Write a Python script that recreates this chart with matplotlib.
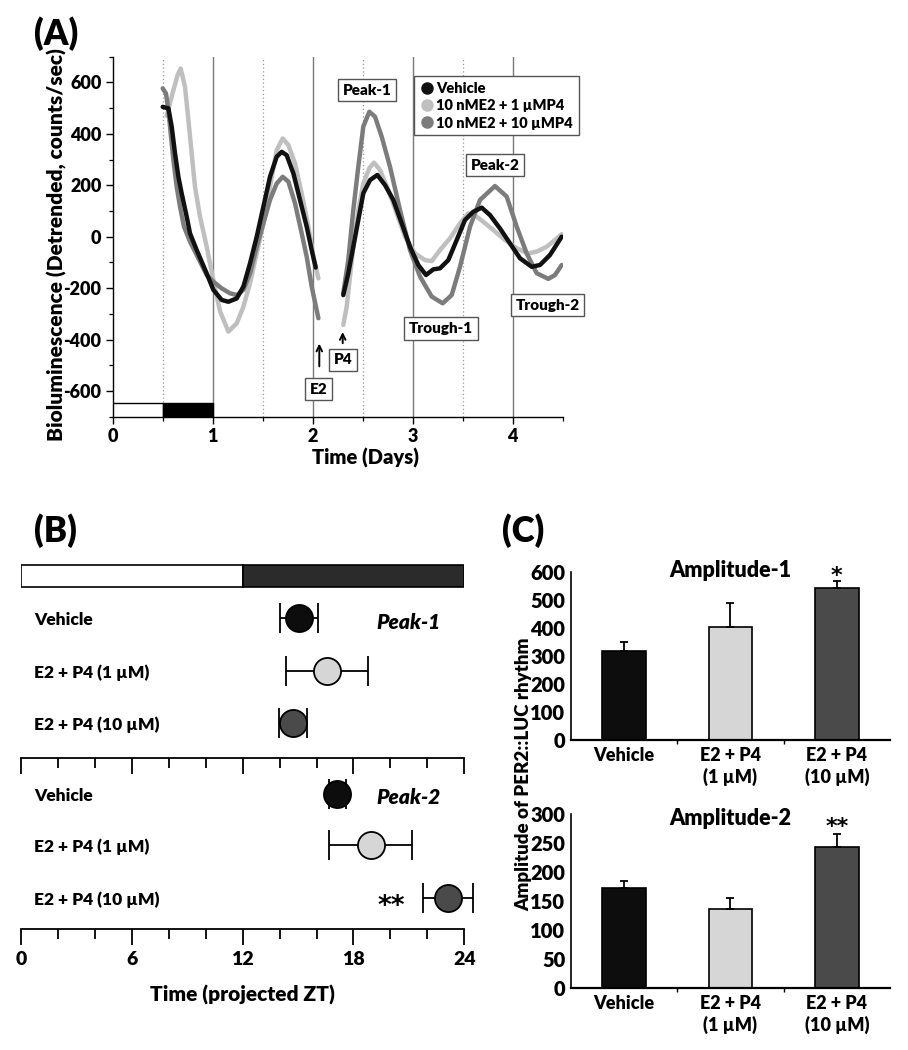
import numpy as np
import matplotlib
matplotlib.use("Agg")
import matplotlib.pyplot as plt
from matplotlib.lines import Line2D
from matplotlib.ticker import MultipleLocator, FixedLocator

plt.rcParams["font.family"] = ["Lato", "DejaVu Sans"]
plt.rcParams["font.weight"] = "heavy"
WT = "heavy"

W, H = 908, 1050

# ---------------- Panel A: detrended bioluminescence (days, counts/sec)
veh_t1 = [0.50, 0.557, 0.59, 0.623, 0.657, 0.69, 0.74, 0.773, 0.84, 0.94, 1.007, 1.09, 1.157,
          1.24, 1.307, 1.373, 1.44, 1.507, 1.573, 1.64, 1.69, 1.74, 1.807, 1.873, 1.94, 1.99, 2.03]
veh_v1 = [505, 499, 428, 324, 233, 168, 78, 13, -52, -143, -207, -246, -253,
          -240, -194, -104, 0, 117, 233, 311, 330, 317, 246, 143, 39, -52, -120]
veh_t2 = [2.306, 2.356, 2.406, 2.456, 2.506, 2.573, 2.646, 2.723, 2.806, 2.89, 2.973, 3.056, 3.133,
          3.206, 3.273, 3.356, 3.44, 3.523, 3.606, 3.69, 3.773, 3.873, 3.973, 4.073, 4.19, 4.273,
          4.373, 4.49]
veh_v2 = [-227, -142, -39, 65, 169, 220, 240, 201, 143, 52, -39, -110, -149,
          -127, -123, -91, -13, 65, 97, 113, 84, 32, -26, -84, -117, -110,
          -71, 0]

lo_t1 = [0.54, 0.60, 0.65, 0.68, 0.723, 0.757, 0.79, 0.823, 0.873, 0.94, 1.007, 1.073, 1.157,
         1.24, 1.307, 1.373, 1.44, 1.507, 1.573, 1.64, 1.70, 1.757, 1.823, 1.89, 1.957, 2.007, 2.057]
lo_v1 = [470, 560, 630, 654, 583, 454, 324, 194, 78, -39, -170, -290, -369,
         -337, -272, -181, -65, 52, 194, 337, 382, 356, 285, 168, 39, -78, -162]
lo_t2 = [2.306, 2.34, 2.373, 2.406, 2.456, 2.506, 2.566, 2.613, 2.673, 2.756, 2.84, 2.923, 3.023,
         3.123, 3.19, 3.273, 3.373, 3.473, 3.556, 3.606, 3.706, 3.806, 3.923, 4.04, 4.156, 4.24,
         4.34, 4.423, 4.49]
lo_v2 = [-343, -272, -155, -39, 104, 207, 266, 288, 259, 182, 91, 0, -65,
         -91, -95, -52, -6, 52, 91, 88, 58, 26, -13, -45, -65, -58,
         -39, -13, 10]

hi_t1 = [0.50, 0.533, 0.557, 0.58, 0.607, 0.64, 0.673, 0.713, 0.773, 0.84, 0.94, 1.007, 1.09,
         1.173, 1.24, 1.307, 1.373, 1.44, 1.507, 1.573, 1.64, 1.70, 1.757, 1.823, 1.89, 1.94,
         1.99, 2.057]
hi_v1 = [577, 557, 492, 402, 298, 194, 117, 39, -19, -71, -149, -175, -201,
         -220, -227, -207, -143, -39, 52, 143, 207, 233, 214, 130, 13, -78,
         -194, -317]
hi_t2 = [2.306, 2.356, 2.406, 2.456, 2.506, 2.566, 2.623, 2.69, 2.773, 2.873, 2.973, 3.073, 3.19,
         3.30, 3.39, 3.473, 3.573, 3.673, 3.823, 3.94, 4.04, 4.14, 4.24, 4.356, 4.423, 4.49]
hi_v2 = [-220, -90, 104, 272, 428, 486, 467, 389, 272, 104, -52, -155, -233,
         -259, -227, -117, 39, 143, 197, 156, 39, -65, -142, -164, -149, -110]

series_names = ["Vehicle", "10 nME2 + 1 \u00b5MP4", "10 nME2 + 10 \u00b5MP4"]
series_colors = ["#111111", "#bfbfbf", "#7c7c7c"]

ld_left = [0.0, 0.5]
ld_width = [0.5, 0.5]
ld_colors = ["white", "black"]

# ---------------- Panel B: peak phase (projected ZT, hours)
b_groups = ["Vehicle", "E2 + P4 (1 \u00b5M)", "E2 + P4 (10 \u00b5M)"]
peak1_mean = [15.05, 16.56, 14.74]
peak1_err = [1.05, 2.24, 0.76]
peak2_mean = [17.13, 18.94, 23.13]
peak2_err = [0.47, 2.25, 1.35]
b_colors = ["#0d0d0d", "#d6d6d6", "#4a4a4a"]

# ---------------- Panel C: amplitudes
c_labels = ["Vehicle", "E2 + P4\n(1 \u00b5M)", "E2 + P4\n(10 \u00b5M)"]
amp1 = [318, 404, 543]
amp1_err = [30, 83, 25]
amp2 = [173, 137, 243]
amp2_err = [12, 19, 23]

STAR_FONT = ["DejaVu Sans"]


def box(left, top, right, bottom):
    return [left / W, 1 - bottom / H, (right - left) / W, (bottom - top) / H]


def ftext(x, y, s, **kw):
    fig.text(x / W, 1 - y / H, s, **kw)


fig = plt.figure(figsize=(W / 100, H / 100), dpi=100)

# ======================= (A)
axA = fig.add_axes(box(112.7, 56.7, 562.7, 416.7))
axA.set_xlim(0, 4.5)
axA.set_ylim(-700, 700)
for x in [1, 2, 3, 4]:
    axA.axvline(x, color="#7a7a7a", lw=1.0, zorder=1)
for x in [0.5, 1.5, 2.5, 3.5]:
    axA.axvline(x, color="#9a9a9a", lw=0.9, ls=(0, (1, 2)), zorder=1)

curves = [
    (lo_t1, lo_v1, lo_t2, lo_v2, series_colors[1]),
    (hi_t1, hi_v1, hi_t2, hi_v2, series_colors[2]),
    (veh_t1, veh_v1, veh_t2, veh_v2, series_colors[0]),
]
for t1, v1, t2, v2, c in curves:
    axA.plot(t1, v1, color=c, lw=3.2, solid_capstyle="round", solid_joinstyle="round", zorder=3)
    axA.plot(t2, v2, color=c, lw=3.2, solid_capstyle="round", solid_joinstyle="round", zorder=3)

axA.barh(-672.5, ld_width, left=ld_left, height=55, color=ld_colors,
         edgecolor="black", lw=1.0, zorder=4)

for s in ["top", "right"]:
    axA.spines[s].set_visible(False)
axA.spines["left"].set_linewidth(1.0)
axA.spines["bottom"].set_linewidth(1.0)
axA.set_xticks([0, 1, 2, 3, 4])
axA.xaxis.set_minor_locator(MultipleLocator(0.5))
axA.set_yticks(np.arange(-600, 601, 200))
axA.set_yticklabels([str(v) for v in range(-600, 601, 200)])
axA.yaxis.set_minor_locator(MultipleLocator(100))
axA.tick_params(which="major", length=5, width=1.0, labelsize=13, pad=3)
axA.tick_params(which="minor", length=3, width=0.9)
for lab in axA.get_xticklabels() + axA.get_yticklabels():
    lab.set_fontweight(WT)

box_style = dict(boxstyle="square,pad=0.3", fc="white", ec="#555555", lw=1.0)
annots = [("Peak-1", 2.543, 570), ("Peak-2", 3.823, 278), ("Trough-1", 3.283, -357),
          ("Trough-2", 4.348, -266), ("P4", 2.303, -479), ("E2", 2.058, -593)]
for s, x, y in annots:
    axA.text(x, y, s, ha="center", va="center", fontsize=11, fontweight=WT,
             bbox=box_style, zorder=6, clip_on=False)
axA.annotate("", xy=(2.066, -405), xytext=(2.066, -515),
             arrowprops=dict(arrowstyle="->", lw=1.4, color="black", mutation_scale=10))
axA.annotate("", xy=(2.30, -360), xytext=(2.30, -425),
             arrowprops=dict(arrowstyle="->", lw=1.4, color="black", mutation_scale=10))

handles = [Line2D([], [], marker="o", ls="", color=c, markersize=8) for c in series_colors]
leg = axA.legend(handles, series_names, loc="upper left",
                 bbox_to_anchor=((414.3 - 112.7) / 450, (416.7 - 76) / 360),
                 frameon=True, fancybox=False, edgecolor="#555555", framealpha=1,
                 prop=dict(weight=WT, size=10.5), handletextpad=0.1, handlelength=1.0,
                 borderpad=0.4, labelspacing=0.3, borderaxespad=0)
leg.get_frame().set_linewidth(1.0)
leg.set_zorder(7)

ftext(56.7, 245, "Bioluminescence (Detrended, counts/sec)", rotation=90,
      ha="center", va="center", fontsize=15, fontweight=WT)
ftext(366, 458, "Time (Days)", ha="center", va="center", fontsize=14.5, fontweight=WT)
ftext(56, 34, "(A)", ha="center", va="center", fontsize=25, fontweight=WT)


# ======================= (B)
def style_time_axis(ax, labels):
    ax.set_xlim(0, 24)
    for s in ["top", "right", "left"]:
        ax.spines[s].set_visible(False)
    ax.spines["bottom"].set_linewidth(1.3)
    ax.set_yticks([])
    ax.set_xticks([0, 6, 12, 18, 24])
    ax.xaxis.set_minor_locator(FixedLocator([2, 4, 8, 10, 14, 16, 20, 22]))
    ax.tick_params(which="major", length=11.5, width=1.3, labelsize=14, pad=4,
                   labelbottom=labels)
    ax.tick_params(which="minor", length=7, width=1.3)
    ax.patch.set_alpha(0)
    for lab in ax.get_xticklabels():
        lab.set_fontweight(WT)


axB1 = fig.add_axes(box(21, 560, 464.3, 758.3))
axB2 = fig.add_axes(box(21, 758.3, 464.3, 929.3))
style_time_axis(axB1, False)
style_time_axis(axB2, True)
axB1.set_ylim(758.3, 560)
axB2.set_ylim(929.3, 758.3)

axB1.barh(575.8, [12, 12], left=[0, 12], height=21.7, color=["white", "#2b2b2b"],
          edgecolor="black", lw=1.2)

rows1 = [618.3, 671, 723]
rows2 = [794, 845, 897.7]
for ax, rows, mean, err, title in [(axB1, rows1, peak1_mean, peak1_err, "Peak-1"),
                                   (axB2, rows2, peak2_mean, peak2_err, "Peak-2")]:
    for i in range(3):
        ax.errorbar(mean[i], rows[i], xerr=err[i], fmt="none", ecolor="black",
                    elinewidth=1.3, capsize=10.5, capthick=1.3, zorder=3, clip_on=False)
        ax.plot(mean[i], rows[i], "o", ms=19.5, mfc=b_colors[i], mec="black", mew=1.3,
                zorder=4, clip_on=False)
        ax.text(0.72, rows[i] + 2, b_groups[i], ha="left", va="center", fontsize=12.5,
                fontweight=WT)
    ax.text(20.97, rows[0] + 4, title, ha="center", va="center", fontsize=15,
            fontweight=WT, style="italic")
axB2.text(20.07, rows2[2] + 16, "**", ha="center", va="baseline", fontsize=19,
          fontweight="bold", family=STAR_FONT)

ftext(242.5, 995, "Time (projected ZT)", ha="center", va="center", fontsize=15,
      fontweight=WT)
ftext(55, 531, "(B)", ha="center", va="center", fontsize=25, fontweight=WT)


# ======================= (C)
def bar_panel(ax, vals, errs, top, step, title, title_y, star, star_y):
    x = np.arange(len(vals))
    ax.bar(x, vals, width=0.41, color=b_colors, edgecolor="black", lw=1.2, zorder=2)
    ax.errorbar(x, vals, yerr=[np.zeros(len(errs)), errs], fmt="none", ecolor="black",
                elinewidth=1.3, capsize=3, capthick=1.3, zorder=3)
    ax.set_xlim(-0.5, 2.5)
    ax.set_ylim(0, top)
    ax.set_yticks(np.arange(0, top + 1, step))
    ax.set_xticks(x)
    ax.set_xticklabels(c_labels, fontweight=WT, fontsize=13, linespacing=1.25)
    ax.xaxis.set_minor_locator(FixedLocator([0.5, 1.5]))
    ax.tick_params(axis="x", which="major", length=0, pad=5)
    ax.tick_params(axis="x", which="minor", length=3, width=1.0)
    ax.tick_params(axis="y", length=0, pad=4, labelsize=14.5)
    for lab in ax.get_yticklabels():
        lab.set_fontweight(WT)
    for s in ["top", "right"]:
        ax.spines[s].set_visible(False)
    ax.spines["left"].set_linewidth(1.2)
    ax.spines["bottom"].set_linewidth(1.6)
    ax.text(1, title_y, title, ha="center", va="center", fontsize=15.5, fontweight=WT,
            clip_on=False)
    ax.text(2, star_y, star, ha="center", va="baseline", fontsize=16, fontweight="bold",
            family=STAR_FONT, clip_on=False)


axC1 = fig.add_axes(box(570.7, 571.7, 890, 740))
axC2 = fig.add_axes(box(570.7, 814.3, 890, 988.3))
bar_panel(axC1, amp1, amp1_err, 600, 100, "Amplitude-1", 603, "*", 562)
bar_panel(axC2, amp2, amp2_err, 300, 50, "Amplitude-2", 292, "**", 268)

ftext(523.3, 774, "Amplitude of PER2::LUC rhythm", rotation=90, ha="center", va="center",
      fontsize=13.5, fontweight=WT)
ftext(523, 531, "(C)", ha="center", va="center", fontsize=25, fontweight=WT)

fig.savefig("out.png", dpi=100)
